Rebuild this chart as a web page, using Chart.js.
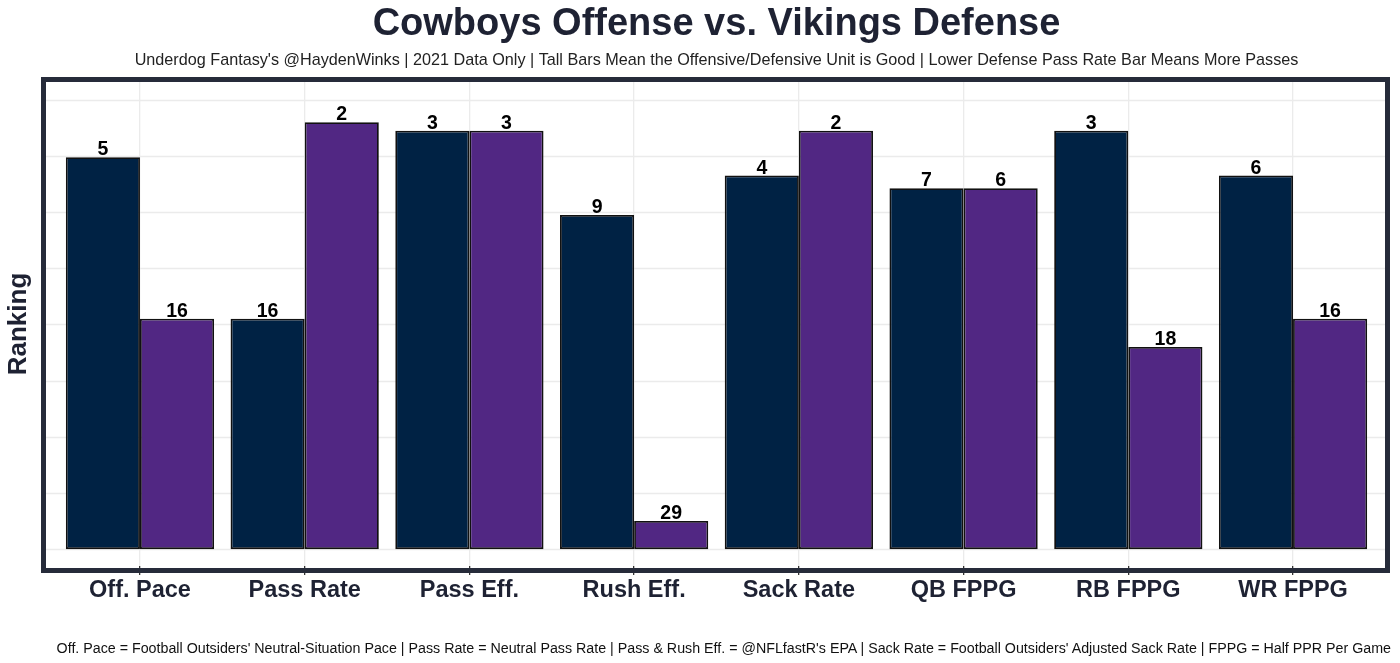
<!DOCTYPE html>
<html>
<head>
<meta charset="utf-8">
<script src="https://cdn.jsdelivr.net/npm/chart.js@4.4.0/dist/chart.umd.min.js"></script>
<style>
  html, body { margin: 0; padding: 0; background: #ffffff; }
  #wrap { position: relative; width: 1400px; height: 663px; }
  canvas { display: block; }
  #caption {
    position: absolute; right: 9px; top: 637.6px;
    font-family: 'Liberation Sans', Arial, Helvetica, sans-serif;
    font-size: 14.25px; line-height: 20px; color: #111111;
    white-space: nowrap; text-align: right;
  }
</style>
</head>
<body>
<div id="wrap">
  <canvas id="c" width="1400" height="663"></canvas>
  <div id="caption"></div>
</div>
<script>
// ---- data ----
const categories = ["Off. Pace", "Pass Rate", "Pass Eff.", "Rush Eff.", "Sack Rate", "QB FPPG", "RB FPPG", "WR FPPG"];
const offenseHeight = [27.9, 16.4, 29.8, 23.8, 26.6, 25.7, 29.8, 26.6];
const defenseHeight = [16.4, 30.4, 29.8, 2.0, 29.8, 25.7, 14.4, 16.4];
const offenseRank = [5, 16, 3, 9, 4, 7, 3, 6];
const defenseRank = [16, 2, 3, 29, 2, 6, 18, 16];
const yGridValues = [0, 4, 8, 12, 16, 20, 24, 28, 32];

const titleText = "Cowboys Offense vs. Vikings Defense";
const subtitleText = "Underdog Fantasy's @HaydenWinks | 2021 Data Only | Tall Bars Mean the Offensive/Defensive Unit is Good | Lower Defense Pass Rate Bar Means More Passes";
const captionText = "Off. Pace = Football Outsiders' Neutral-Situation Pace | Pass Rate = Neutral Pass Rate | Pass & Rush Eff. = @NFLfastR's EPA | Sack Rate = Football Outsiders' Adjusted Sack Rate | FPPG = Half PPR Per Game";

document.getElementById('caption').textContent = captionText;

const FONT = "'Liberation Sans', Arial, Helvetica, sans-serif";
const DARK = "#1e2233";

const panelPlugin = {
  id: 'panel',
  beforeDraw(chart) {
    const ctx = chart.ctx;
    const y = chart.scales.y;
    ctx.save();
    ctx.fillStyle = '#ffffff';
    ctx.fillRect(0, 0, chart.width, chart.height);
    ctx.strokeStyle = '#ebebeb';
    ctx.lineWidth = 1.3;
    yGridValues.forEach(v => {
      const py = Math.round(y.getPixelForValue(v)) + 0.5;
      ctx.beginPath();
      ctx.moveTo(46, py);
      ctx.lineTo(1385, py);
      ctx.stroke();
    });
    ctx.restore();
  },
  afterDatasetsDraw(chart) {
    const ctx = chart.ctx;
    ctx.save();
    ctx.font = "bold 19.5px " + FONT;
    ctx.fillStyle = '#000000';
    ctx.textAlign = 'center';
    ctx.textBaseline = 'alphabetic';
    const ranks = [offenseRank, defenseRank];
    chart.data.datasets.forEach((ds, di) => {
      const meta = chart.getDatasetMeta(di);
      meta.data.forEach((bar, i) => {
        ctx.fillText(String(ranks[di][i]), bar.x, bar.y - 2);
      });
    });
    ctx.restore();
  },
  afterDraw(chart) {
    const ctx = chart.ctx;
    ctx.save();
    ctx.strokeStyle = '#262b3a';
    ctx.lineWidth = 5;
    ctx.strokeRect(43.5, 79.5, 1344, 491);
    ctx.restore();
  }
};

new Chart(document.getElementById('c'), {
  type: 'bar',
  data: {
    labels: categories,
    datasets: [
      { label: 'Cowboys Offense', data: offenseHeight, backgroundColor: '#002244', borderColor: '#111111', borderWidth: 1.8, borderSkipped: false },
      { label: 'Vikings Defense', data: defenseHeight, backgroundColor: '#512783', borderColor: '#111111', borderWidth: 1.8, borderSkipped: false }
    ]
  },
  options: {
    responsive: false,
    animation: false,
    devicePixelRatio: 1,
    layout: { padding: { left: 0, right: 24.6, top: 0, bottom: 57.8 } },
    datasets: { bar: { categoryPercentage: 0.9, barPercentage: 1.0 } },
    plugins: {
      legend: { display: false },
      tooltip: { enabled: false },
      title: {
        display: true, text: titleText, fullSize: false, color: DARK,
        font: { family: FONT, size: 38, weight: 'bold' },
        padding: { top: 2, bottom: 0 }
      },
      subtitle: {
        display: true, text: subtitleText, fullSize: false, color: '#222222',
        font: { family: FONT, size: 16.2, weight: 'normal' },
        padding: { top: 3.1, bottom: 11.9 }
      }
    },
    scales: {
      x: {
        offset: true,
        grid: { display: true, offset: false, color: '#ebebeb', lineWidth: 1.3, drawTicks: true, tickLength: 9, tickColor: '#333333' },
        border: { display: false },
        ticks: { color: DARK, font: { family: FONT, size: 23.5, weight: 'bold' }, padding: 1, maxRotation: 0, autoSkip: false }
      },
      y: {
        min: -1.2, max: 33.26,
        afterBuildTicks(scale) { scale.ticks = yGridValues.map(v => ({ value: v })); },
        grid: { display: false, drawTicks: false },
        border: { display: false },
        ticks: { display: false },
        title: {
          display: true, text: 'Ranking', color: DARK,
          font: { family: FONT, size: 26, weight: 'bold' },
          padding: { top: 2.9, bottom: 23.5 }
        }
      }
    }
  },
  plugins: [panelPlugin]
});
</script>
</body>
</html>
